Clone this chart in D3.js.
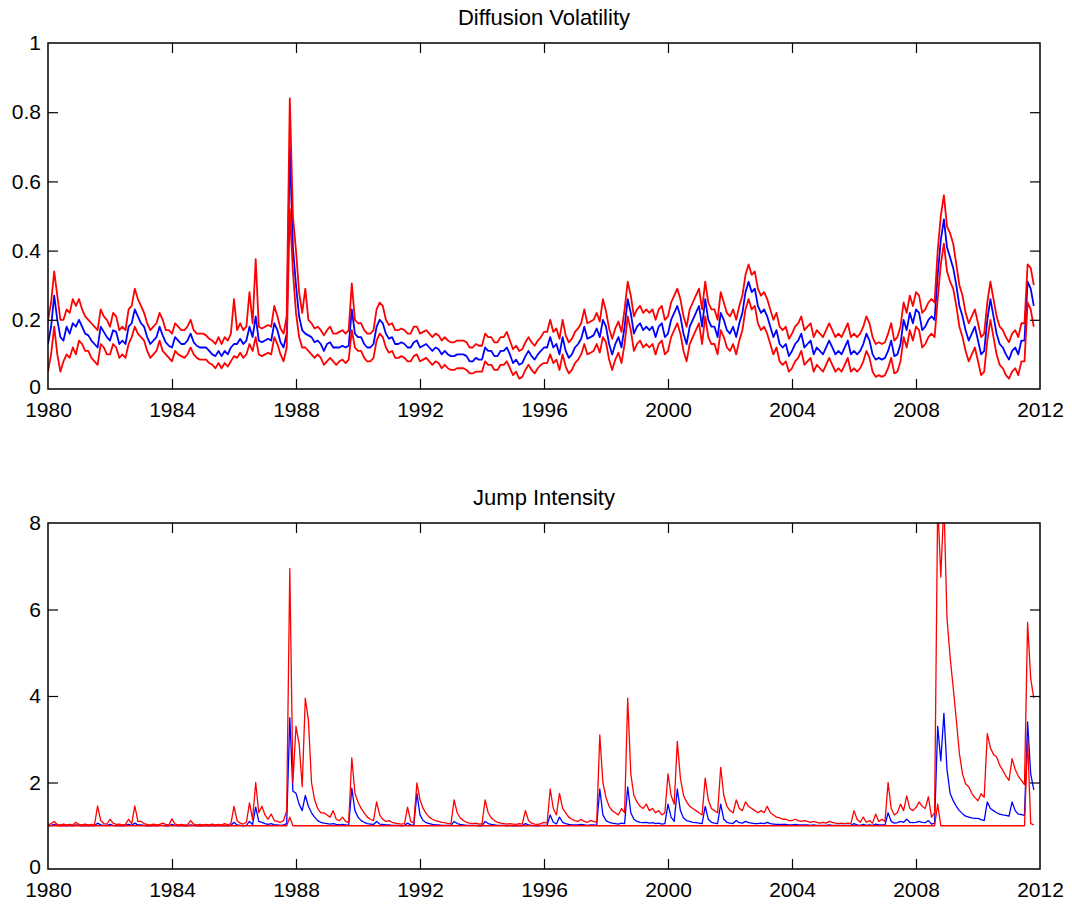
<!DOCTYPE html>
<html>
<head>
<meta charset="utf-8">
<script src="https://cdn.jsdelivr.net/npm/d3@7/dist/d3.min.js"></script>
<style>
  body { margin: 0; background: #fff; }
  svg text { font-family: "Liberation Sans", Arial, Helvetica, sans-serif; fill: #000; }
</style>
</head>
<body>
<svg id="chart" width="1072" height="905"></svg>
<script>
// sample times: 1980.0, 1980.1, ... (one value per tenth of a year)
const startYear = 1980;
const stepYear = 0.1;

const xTicks = [1980, 1984, 1988, 1992, 1996, 2000, 2004, 2008, 2012];
const volTicks = [0, 0.2, 0.4, 0.6, 0.8, 1];
const jumpTicks = [0, 2, 4, 6, 8];

// Diffusion volatility: median (blue) and band (red)
const volMedian = [
  0.13,0.18,0.27,0.20,0.15,0.14,0.18,0.16,0.19,0.18,
  0.20,0.18,0.16,0.155,0.14,0.13,0.12,0.18,0.165,0.15,
  0.14,0.17,0.165,0.13,0.14,0.13,0.18,0.19,0.23,0.21,
  0.19,0.18,0.15,0.13,0.14,0.15,0.18,0.155,0.135,0.125,
  0.12,0.15,0.14,0.13,0.13,0.14,0.16,0.135,0.125,0.12,
  0.12,0.12,0.11,0.10,0.095,0.11,0.095,0.11,0.10,0.12,
  0.13,0.13,0.145,0.13,0.14,0.18,0.15,0.21,0.14,0.135,
  0.14,0.145,0.14,0.19,0.17,0.135,0.12,0.16,0.70,0.41,
  0.30,0.21,0.17,0.16,0.155,0.15,0.135,0.14,0.13,0.11,
  0.13,0.135,0.12,0.12,0.12,0.125,0.12,0.125,0.23,0.16,
  0.15,0.15,0.13,0.12,0.12,0.13,0.18,0.20,0.19,0.16,
  0.145,0.15,0.13,0.13,0.135,0.13,0.12,0.12,0.135,0.14,
  0.12,0.125,0.13,0.12,0.11,0.12,0.115,0.10,0.11,0.10,
  0.095,0.095,0.10,0.10,0.10,0.095,0.08,0.08,0.09,0.085,
  0.085,0.12,0.11,0.11,0.095,0.095,0.11,0.11,0.12,0.10,
  0.075,0.085,0.07,0.075,0.095,0.11,0.095,0.085,0.10,0.11,
  0.12,0.12,0.15,0.12,0.13,0.10,0.15,0.11,0.09,0.10,
  0.12,0.13,0.145,0.18,0.145,0.15,0.155,0.175,0.15,0.20,
  0.18,0.13,0.10,0.13,0.15,0.12,0.18,0.26,0.22,0.16,
  0.18,0.19,0.17,0.18,0.17,0.18,0.15,0.18,0.19,0.15,
  0.16,0.20,0.22,0.24,0.21,0.16,0.13,0.18,0.20,0.22,
  0.24,0.18,0.26,0.20,0.18,0.18,0.15,0.22,0.20,0.17,
  0.16,0.18,0.15,0.19,0.22,0.28,0.31,0.28,0.29,0.24,
  0.22,0.23,0.21,0.18,0.15,0.17,0.13,0.12,0.13,0.095,
  0.11,0.13,0.14,0.16,0.12,0.13,0.14,0.10,0.12,0.11,
  0.10,0.12,0.14,0.12,0.10,0.11,0.10,0.12,0.14,0.10,
  0.11,0.10,0.11,0.13,0.16,0.14,0.10,0.085,0.09,0.085,
  0.09,0.11,0.14,0.095,0.10,0.13,0.20,0.17,0.22,0.19,
  0.23,0.22,0.17,0.18,0.20,0.21,0.20,0.33,0.43,0.49,
  0.41,0.38,0.35,0.30,0.24,0.21,0.17,0.14,0.16,0.18,
  0.14,0.10,0.11,0.20,0.26,0.21,0.16,0.13,0.12,0.10,
  0.085,0.11,0.12,0.10,0.14,0.14,0.31,0.29,0.24
];

const volUpper = [
  0.20,0.25,0.34,0.27,0.20,0.20,0.23,0.22,0.26,0.24,
  0.26,0.23,0.21,0.20,0.19,0.18,0.17,0.23,0.21,0.20,
  0.18,0.22,0.21,0.17,0.18,0.17,0.23,0.24,0.29,0.26,
  0.24,0.22,0.19,0.17,0.18,0.19,0.22,0.20,0.17,0.17,
  0.16,0.19,0.18,0.17,0.17,0.18,0.20,0.17,0.16,0.16,
  0.16,0.155,0.145,0.14,0.13,0.15,0.13,0.15,0.14,0.16,
  0.26,0.17,0.19,0.17,0.18,0.28,0.19,0.375,0.18,0.175,
  0.18,0.185,0.18,0.24,0.21,0.175,0.16,0.21,0.84,0.50,
  0.40,0.28,0.22,0.29,0.20,0.19,0.175,0.18,0.17,0.155,
  0.17,0.18,0.16,0.16,0.165,0.17,0.16,0.17,0.305,0.20,
  0.19,0.19,0.17,0.16,0.16,0.17,0.23,0.25,0.24,0.20,
  0.185,0.19,0.17,0.17,0.175,0.17,0.16,0.16,0.18,0.18,
  0.16,0.165,0.17,0.16,0.15,0.16,0.155,0.14,0.15,0.14,
  0.135,0.135,0.14,0.14,0.14,0.135,0.12,0.12,0.13,0.125,
  0.125,0.16,0.15,0.15,0.135,0.135,0.15,0.15,0.165,0.14,
  0.115,0.125,0.11,0.115,0.135,0.15,0.135,0.125,0.14,0.15,
  0.165,0.165,0.20,0.165,0.175,0.145,0.20,0.155,0.135,0.145,
  0.165,0.175,0.19,0.23,0.19,0.195,0.20,0.22,0.195,0.26,
  0.225,0.175,0.145,0.175,0.195,0.165,0.23,0.31,0.27,0.21,
  0.23,0.24,0.22,0.23,0.22,0.23,0.20,0.23,0.24,0.20,
  0.21,0.25,0.27,0.29,0.26,0.21,0.18,0.23,0.25,0.27,
  0.29,0.23,0.31,0.25,0.23,0.23,0.20,0.28,0.25,0.22,
  0.21,0.23,0.20,0.24,0.27,0.33,0.36,0.33,0.34,0.29,
  0.27,0.28,0.26,0.23,0.20,0.22,0.18,0.17,0.18,0.145,
  0.16,0.18,0.19,0.21,0.17,0.18,0.19,0.15,0.17,0.16,
  0.15,0.17,0.19,0.17,0.15,0.16,0.15,0.17,0.19,0.15,
  0.16,0.15,0.16,0.18,0.21,0.19,0.15,0.13,0.135,0.13,
  0.135,0.16,0.19,0.14,0.15,0.18,0.25,0.22,0.27,0.24,
  0.28,0.27,0.22,0.23,0.25,0.26,0.25,0.40,0.50,0.56,
  0.47,0.45,0.42,0.36,0.30,0.27,0.22,0.19,0.21,0.23,
  0.19,0.15,0.16,0.25,0.31,0.26,0.21,0.18,0.17,0.15,
  0.135,0.16,0.17,0.15,0.19,0.19,0.36,0.35,0.30
];

const volLower = [
  0.05,0.10,0.18,0.10,0.05,0.08,0.10,0.09,0.12,0.10,
  0.14,0.13,0.11,0.11,0.09,0.08,0.07,0.13,0.12,0.10,
  0.10,0.13,0.12,0.09,0.10,0.09,0.13,0.15,0.18,0.16,
  0.15,0.14,0.11,0.09,0.10,0.11,0.14,0.11,0.10,0.09,
  0.08,0.11,0.10,0.095,0.09,0.10,0.12,0.10,0.09,0.085,
  0.085,0.085,0.075,0.07,0.06,0.075,0.06,0.075,0.065,0.08,
  0.095,0.09,0.105,0.09,0.10,0.13,0.11,0.15,0.10,0.095,
  0.10,0.105,0.10,0.15,0.13,0.10,0.08,0.12,0.52,0.34,
  0.22,0.15,0.12,0.12,0.11,0.10,0.09,0.10,0.09,0.07,
  0.08,0.09,0.08,0.07,0.08,0.085,0.075,0.085,0.17,0.12,
  0.11,0.11,0.09,0.08,0.08,0.09,0.14,0.16,0.15,0.12,
  0.105,0.11,0.09,0.09,0.095,0.09,0.08,0.08,0.095,0.10,
  0.08,0.085,0.09,0.08,0.07,0.08,0.075,0.06,0.07,0.06,
  0.055,0.055,0.06,0.06,0.06,0.055,0.045,0.045,0.05,0.05,
  0.05,0.08,0.07,0.07,0.055,0.055,0.07,0.07,0.08,0.06,
  0.04,0.05,0.03,0.035,0.055,0.07,0.055,0.045,0.06,0.07,
  0.075,0.075,0.10,0.075,0.085,0.055,0.10,0.065,0.045,0.055,
  0.075,0.085,0.10,0.13,0.10,0.105,0.11,0.13,0.105,0.15,
  0.135,0.085,0.055,0.085,0.105,0.075,0.13,0.21,0.17,0.11,
  0.13,0.14,0.12,0.13,0.12,0.13,0.10,0.13,0.14,0.10,
  0.11,0.15,0.17,0.19,0.16,0.11,0.08,0.13,0.15,0.17,
  0.19,0.13,0.21,0.15,0.13,0.13,0.10,0.17,0.15,0.12,
  0.11,0.13,0.10,0.14,0.17,0.23,0.26,0.23,0.24,0.19,
  0.17,0.18,0.16,0.13,0.10,0.12,0.08,0.07,0.08,0.05,
  0.06,0.08,0.09,0.11,0.07,0.08,0.09,0.05,0.07,0.06,
  0.05,0.07,0.09,0.07,0.05,0.06,0.05,0.07,0.09,0.05,
  0.06,0.05,0.06,0.08,0.11,0.09,0.05,0.035,0.04,0.035,
  0.04,0.06,0.09,0.045,0.05,0.08,0.15,0.12,0.17,0.14,
  0.18,0.17,0.12,0.13,0.15,0.16,0.15,0.26,0.36,0.42,
  0.34,0.31,0.29,0.24,0.18,0.15,0.11,0.08,0.10,0.12,
  0.08,0.04,0.05,0.14,0.20,0.15,0.10,0.07,0.06,0.04,
  0.03,0.05,0.06,0.04,0.08,0.08,0.25,0.23,0.18
];

// Jump intensity: median (blue) and band (red)
const jumpMedian = [
  1.00,1.01,1.03,1.01,1.00,1.01,1.00,1.01,1.00,1.02,
  1.01,1.00,1.01,1.00,1.01,1.00,1.06,1.02,1.01,1.01,
  1.03,1.01,1.00,1.01,1.00,1.01,1.03,1.01,1.06,1.02,
  1.02,1.01,1.00,1.00,1.01,1.00,1.01,1.01,1.00,1.00,
  1.03,1.01,1.00,1.01,1.00,1.00,1.02,1.01,1.00,1.00,
  1.00,1.01,1.00,1.01,1.00,1.01,1.00,1.01,1.00,1.01,
  1.08,1.02,1.01,1.00,1.01,1.10,1.03,1.43,1.10,1.08,
  1.05,1.03,1.05,1.02,1.02,1.01,1.02,1.05,3.50,1.80,
  1.75,1.50,1.35,1.70,1.45,1.30,1.20,1.12,1.08,1.06,
  1.05,1.04,1.05,1.03,1.02,1.03,1.02,1.01,1.87,1.35,
  1.20,1.12,1.08,1.05,1.04,1.03,1.10,1.04,1.03,1.02,
  1.02,1.01,1.01,1.01,1.00,1.01,1.06,1.02,1.01,1.75,
  1.25,1.12,1.07,1.05,1.03,1.02,1.02,1.01,1.01,1.01,
  1.01,1.10,1.05,1.03,1.02,1.01,1.01,1.01,1.01,1.00,
  1.00,1.10,1.05,1.03,1.02,1.01,1.01,1.01,1.00,1.01,
  1.00,1.00,1.01,1.00,1.05,1.02,1.01,1.00,1.00,1.01,
  1.01,1.01,1.25,1.08,1.04,1.20,1.08,1.05,1.03,1.02,
  1.02,1.02,1.03,1.02,1.01,1.02,1.02,1.01,1.85,1.25,
  1.12,1.08,1.06,1.05,1.04,1.06,1.05,1.90,1.30,1.15,
  1.10,1.08,1.07,1.08,1.06,1.07,1.05,1.06,1.04,1.05,
  1.50,1.20,1.10,1.85,1.35,1.18,1.12,1.10,1.08,1.07,
  1.06,1.05,1.45,1.15,1.08,1.06,1.05,1.50,1.15,1.08,
  1.06,1.05,1.12,1.07,1.06,1.10,1.07,1.06,1.05,1.05,
  1.06,1.05,1.08,1.05,1.04,1.03,1.03,1.03,1.03,1.02,
  1.02,1.03,1.02,1.02,1.02,1.02,1.01,1.02,1.01,1.01,
  1.01,1.01,1.02,1.01,1.01,1.01,1.01,1.01,1.01,1.01,
  1.05,1.02,1.01,1.03,1.01,1.02,1.01,1.04,1.02,1.02,
  1.02,1.30,1.10,1.06,1.07,1.10,1.08,1.15,1.08,1.07,
  1.08,1.10,1.08,1.07,1.12,1.04,1.06,3.30,2.50,3.60,
  2.30,1.75,1.58,1.45,1.35,1.28,1.22,1.20,1.18,1.17,
  1.17,1.14,1.12,1.55,1.40,1.35,1.30,1.27,1.25,1.24,
  1.22,1.55,1.35,1.27,1.26,1.24,3.40,2.20,1.83
];

const jumpUpper = [
  1.02,1.05,1.10,1.03,1.02,1.04,1.02,1.03,1.02,1.08,
  1.03,1.02,1.04,1.02,1.03,1.02,1.46,1.12,1.05,1.04,
  1.15,1.06,1.03,1.04,1.02,1.03,1.15,1.05,1.46,1.10,
  1.10,1.05,1.03,1.02,1.04,1.02,1.03,1.06,1.03,1.02,
  1.16,1.04,1.02,1.03,1.02,1.02,1.12,1.04,1.02,1.03,
  1.02,1.03,1.02,1.04,1.02,1.03,1.02,1.05,1.02,1.05,
  1.45,1.12,1.06,1.04,1.08,1.53,1.15,2.00,1.30,1.45,
  1.25,1.15,1.27,1.12,1.10,1.08,1.12,1.35,6.95,2.00,
  3.30,2.90,1.90,3.95,3.45,2.00,1.60,1.40,1.30,1.30,
  1.25,1.20,1.35,1.15,1.12,1.20,1.10,1.08,2.57,1.75,
  1.55,1.40,1.30,1.20,1.15,1.12,1.55,1.25,1.15,1.10,
  1.12,1.08,1.06,1.05,1.04,1.05,1.43,1.10,1.06,1.99,
  1.60,1.40,1.28,1.20,1.15,1.12,1.10,1.08,1.07,1.05,
  1.05,1.60,1.30,1.18,1.12,1.08,1.06,1.05,1.06,1.04,
  1.04,1.60,1.30,1.18,1.12,1.08,1.06,1.05,1.04,1.05,
  1.04,1.03,1.05,1.04,1.35,1.12,1.06,1.04,1.03,1.05,
  1.08,1.06,1.85,1.40,1.25,1.75,1.40,1.30,1.20,1.15,
  1.12,1.10,1.15,1.10,1.08,1.12,1.10,1.08,3.10,2.00,
  1.65,1.45,1.35,1.30,1.25,1.40,1.30,3.95,2.20,1.70,
  1.55,1.45,1.40,1.50,1.35,1.40,1.30,1.35,1.25,1.30,
  2.20,1.70,1.50,2.95,2.10,1.70,1.55,1.45,1.40,1.35,
  1.30,1.25,2.10,1.60,1.40,1.35,1.30,2.35,1.70,1.45,
  1.35,1.30,1.60,1.40,1.35,1.55,1.45,1.40,1.35,1.30,
  1.35,1.30,1.45,1.30,1.25,1.20,1.18,1.15,1.15,1.12,
  1.12,1.15,1.12,1.10,1.12,1.10,1.08,1.10,1.08,1.06,
  1.08,1.06,1.10,1.08,1.06,1.05,1.06,1.05,1.06,1.05,
  1.35,1.15,1.08,1.20,1.08,1.12,1.06,1.27,1.10,1.15,
  1.10,2.00,1.40,1.25,1.30,1.50,1.35,1.69,1.40,1.35,
  1.42,1.55,1.45,1.40,1.67,1.20,1.30,8.50,6.75,8.50,
  5.80,4.90,4.20,3.45,2.67,2.20,1.97,1.90,1.75,1.65,
  1.58,1.74,1.66,3.13,2.80,2.65,2.59,2.40,2.28,2.15,
  2.05,2.55,2.30,2.15,2.05,1.95,5.70,4.40,3.95
];

const jumpLower = [
  1,1,1,1,1,1,1,1,1,1,
  1,1,1,1,1,1,1,1,1,1,
  1,1,1,1,1,1,1,1,1,1,
  1,1,1,1,1,1,1,1,1,1,
  1,1,1,1,1,1,1,1,1,1,
  1,1,1,1,1,1,1,1,1,1,
  1,1,1,1,1,1,1,1,1,1,
  1,1,1,1,1,1,1,1,1.2,1,
  1,1,1,1,1,1,1,1,1,1,
  1,1,1,1,1,1,1,1,1,1,
  1,1,1,1,1,1,1,1,1,1,
  1,1,1,1,1,1,1,1,1,1,
  1,1,1,1,1,1,1,1,1,1,
  1,1,1,1,1,1,1,1,1,1,
  1,1,1,1,1,1,1,1,1,1,
  1,1,1,1,1,1,1,1,1,1,
  1,1,1,1,1,1,1,1,1,1,
  1,1,1,1,1,1,1,1,1,1,
  1,1,1,1,1,1,1,1,1,1,
  1,1,1,1,1,1,1,1,1,1,
  1,1,1,1,1,1,1,1,1,1,
  1,1,1,1,1,1,1,1,1,1,
  1,1,1,1,1,1,1,1,1,1,
  1,1,1,1,1,1,1,1,1,1,
  1,1,1,1,1,1,1,1,1,1,
  1,1,1,1,1,1,1,1,1,1,
  1,1,1,1,1,1,1,1,1,1,
  1,1,1,1,1,1,1,1,1,1,
  1,1,1,1,1,1,1,1.5,1,1,
  1,1,1,1,1,1,1,1,1,1,
  1,1,1,1,1,1,1,1,1,1,
  1,1,1,1,1,1,3.0,1.05,1.02
];

const svg = d3.select("#chart");
const left = 48, right = 1040;
const fontSize = 21;

const x = d3.scaleLinear().domain([1980, 2012]).range([left, right]);

function drawPanel(id, top, bottom, yDomain, yTicks, title, series, lineWidth) {
  const y = d3.scaleLinear().domain(yDomain).range([bottom, top]);
  const g = svg.append("g").attr("class", "panel-" + id);

  g.append("clipPath").attr("id", "clip-" + id)
    .append("rect")
    .attr("x", left).attr("y", top)
    .attr("width", right - left).attr("height", bottom - top);

  const line = d3.line()
    .x((d, i) => x(startYear + i * stepYear))
    .y(d => y(d));

  const plot = g.append("g").attr("clip-path", "url(#clip-" + id + ")");
  series.forEach(s => {
    plot.append("path")
      .datum(s.values)
      .attr("fill", "none")
      .attr("stroke", s.color)
      .attr("stroke-width", lineWidth)
      .attr("stroke-linejoin", "round")
      .attr("d", line);
  });

  // bottom axis with labels, ticks pointing in
  const xAxis = g.append("g")
    .attr("transform", "translate(0," + bottom + ")")
    .call(d3.axisBottom(x).tickValues(xTicks).tickFormat(d3.format("d"))
      .tickSizeInner(-10).tickSizeOuter(0).tickPadding(13));
  // top axis: ticks only
  const xAxisTop = g.append("g")
    .attr("transform", "translate(0," + top + ")")
    .call(d3.axisTop(x).tickValues(xTicks).tickFormat("")
      .tickSizeInner(-10).tickSizeOuter(0));
  const yAxis = g.append("g")
    .attr("transform", "translate(" + left + ",0)")
    .call(d3.axisLeft(y).tickValues(yTicks).tickFormat(d => String(d))
      .tickSizeInner(-10).tickSizeOuter(0).tickPadding(7));
  const yAxisRight = g.append("g")
    .attr("transform", "translate(" + right + ",0)")
    .call(d3.axisRight(y).tickValues(yTicks).tickFormat("")
      .tickSizeInner(-10).tickSizeOuter(0));

  [xAxis, xAxisTop, yAxis, yAxisRight].forEach(a => {
    a.select(".domain").remove();
    a.selectAll(".tick line").attr("stroke", "#000").attr("stroke-width", 1.2);
    a.selectAll(".tick text")
      .style("font-size", fontSize + "px")
      .style("font-family", "'Liberation Sans', Arial, sans-serif")
      .attr("fill", "#000");
  });
  // the lowest y label sits just above the year labels
  yAxis.selectAll(".tick text").filter(d => d === yDomain[0]).attr("dy", "0.2em");
  // hide end ticks sitting on the box edges
  [xAxis, xAxisTop].forEach(a => a.selectAll(".tick line")
    .filter(d => d === 1980 || d === 2012).remove());
  [yAxis, yAxisRight].forEach(a => a.selectAll(".tick line")
    .filter(d => d === yDomain[0] || d === yDomain[1]).remove());

  g.append("rect")
    .attr("x", left).attr("y", top)
    .attr("width", right - left).attr("height", bottom - top)
    .attr("fill", "none").attr("stroke", "#000").attr("stroke-width", 1.5);

  g.append("text")
    .attr("x", (left + right) / 2)
    .attr("y", top - 18)
    .attr("text-anchor", "middle")
    .style("font-size", "22px")
    .text(title);
}

drawPanel("vol", 43, 389, [0, 1], volTicks, "Diffusion Volatility", [
  { values: volMedian, color: "#0000ff" },
  { values: volUpper, color: "#ff0000" },
  { values: volLower, color: "#ff0000" }
], 1.8);

drawPanel("jump", 523, 869, [0, 8], jumpTicks, "Jump Intensity", [
  { values: jumpMedian, color: "#0000ff" },
  { values: jumpUpper, color: "#ff0000" },
  { values: jumpLower, color: "#ff0000" }
], 1.3);
</script>
</body>
</html>
